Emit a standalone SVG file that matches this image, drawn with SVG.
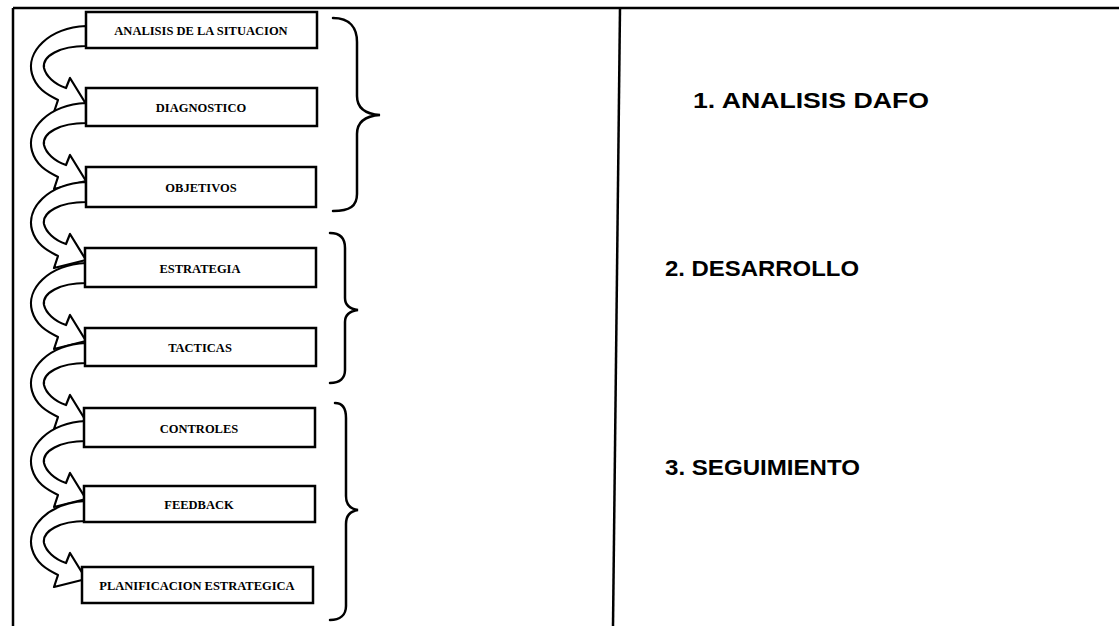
<svg xmlns="http://www.w3.org/2000/svg" width="1119" height="626" viewBox="0 0 1119 626">
  <style>
    .frame { stroke: #000; stroke-width: 2.5; fill: none; }
    .box { fill: #fff; stroke: #000; stroke-width: 2.5; }
    .boxlabel { font-family: "Liberation Serif", serif; font-weight: bold; font-size: 12.5px; text-anchor: middle; fill: #000; }
    .brace { fill: none; stroke: #000; stroke-width: 2.5; stroke-linecap: round; }
    .phase { font-family: "Liberation Sans", Arial, sans-serif; font-weight: bold; font-size: 22px; fill: #000; }
    .carrow { fill: #fff; stroke: #000; stroke-width: 2.2; stroke-linejoin: round; }
  </style>
  <defs>
    <!-- curved block arrow from the left edge of one box to the left edge of the next (box top at y=0) -->
    <path id="carrow" d="M 86 14 C 48 16, 26 40, 32 62 C 36 76, 46 82, 58 88 L 54 100 L 86 92 L 70 66 L 66 76 C 54 72, 46 64, 44 56 C 42 44, 60 34, 86 34 Z"/>
  </defs>

  <rect width="1119" height="626" fill="#fff"/>

  <!-- table frame -->
  <g id="frame">
    <line class="frame" x1="13" y1="8" x2="1119" y2="8"/>
    <line class="frame" x1="13" y1="8" x2="13" y2="626"/>
    <line class="frame" x1="620" y1="8" x2="613" y2="626"/>
  </g>

  <!-- connectors -->
  <g id="connectors">
    <use href="#carrow" class="carrow" transform="translate(0,12)"/>
    <use href="#carrow" class="carrow" transform="translate(0,89)"/>
    <use href="#carrow" class="carrow" transform="translate(0,168)"/>
    <use href="#carrow" class="carrow" transform="translate(0,249)"/>
    <use href="#carrow" class="carrow" transform="translate(0,329)"/>
    <use href="#carrow" class="carrow" transform="translate(0,407)"/>
    <use href="#carrow" class="carrow" transform="translate(0,487)"/>
  </g>

  <!-- process steps -->
  <g id="step1"><rect class="box" x="86" y="12" width="231" height="36"/><text class="boxlabel" x="201" y="35">ANALISIS DE LA SITUACION</text></g>
  <g id="step2"><rect class="box" x="86" y="88" width="231" height="38"/><text class="boxlabel" x="201" y="112">DIAGNOSTICO</text></g>
  <g id="step3"><rect class="box" x="86" y="167" width="230" height="40"/><text class="boxlabel" x="201" y="192">OBJETIVOS</text></g>
  <g id="step4"><rect class="box" x="85" y="248" width="231" height="39"/><text class="boxlabel" x="200" y="273">ESTRATEGIA</text></g>
  <g id="step5"><rect class="box" x="85" y="328" width="231" height="38"/><text class="boxlabel" x="200" y="352">TACTICAS</text></g>
  <g id="step6"><rect class="box" x="84" y="408" width="231" height="39"/><text class="boxlabel" x="199" y="433">CONTROLES</text></g>
  <g id="step7"><rect class="box" x="84" y="486" width="231" height="36"/><text class="boxlabel" x="199" y="509">FEEDBACK</text></g>
  <g id="step8"><rect class="box" x="82" y="567" width="231" height="36"/><text class="boxlabel" x="197" y="590">PLANIFICACION ESTRATEGICA</text></g>

  <!-- phase braces -->
  <g id="brace1"><path class="brace" d="M 333 18 C 350 18, 357 28, 357 42 L 357 96 C 357 108, 365 114, 380 115 C 365 116, 357 122, 357 134 L 357 194 C 357 206, 350 211, 333 211"/></g>
  <g id="brace2"><path class="brace" d="M 330 233 C 340 233, 345 238, 345 248 L 345 298 C 345 306, 350 309, 358 310 C 350 311, 345 314, 345 322 L 345 370 C 345 378, 340 383, 330 383"/></g>
  <g id="brace3"><path class="brace" d="M 335 403 C 343 403, 346 409, 346 418 L 346 496 C 346 505, 351 509, 358 510 C 351 511, 346 515, 346 524 L 346 606 C 346 615, 340 620, 330 620"/></g>

  <!-- phase labels -->
  <g id="phase1"><text class="phase" x="693" y="108" textLength="236" lengthAdjust="spacingAndGlyphs">1. ANALISIS DAFO</text></g>
  <g id="phase2"><text class="phase" x="665" y="276" textLength="194" lengthAdjust="spacingAndGlyphs">2. DESARROLLO</text></g>
  <g id="phase3"><text class="phase" x="665" y="475" textLength="195" lengthAdjust="spacingAndGlyphs">3. SEGUIMIENTO</text></g>
</svg>
